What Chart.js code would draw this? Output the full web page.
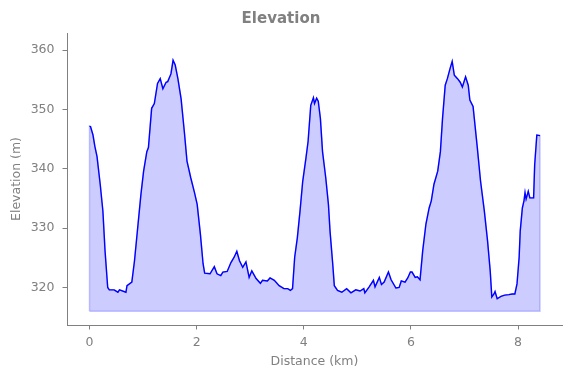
<!DOCTYPE html>
<html>
<head>
<meta charset="utf-8">
<script src="https://cdn.jsdelivr.net/npm/chart.js@4.4.1/dist/chart.umd.min.js"></script>
<style>
  body { margin: 0; background: #fff; }
  #wrap { width: 571px; height: 378px; }
</style>
</head>
<body>
<div id="wrap"><canvas id="chart" width="571" height="378"></canvas></div>
<script>
const GRAY = "#808080";
const BASE = 316;

// distance (km) / elevation (m)
const distKm = [
  0.00, 0.02, 0.065, 0.10, 0.14, 0.20, 0.25, 0.29, 0.34, 0.37, 0.46, 0.53, 0.56, 0.68, 0.70, 0.79,
  0.84, 0.90, 0.96, 1.01, 1.07, 1.10, 1.16, 1.21, 1.27, 1.32, 1.37, 1.43, 1.46, 1.52, 1.56, 1.60,
  1.65, 1.71, 1.77, 1.82, 1.89, 1.96, 2.01, 2.07, 2.12, 2.15, 2.25, 2.33, 2.38, 2.45, 2.49, 2.57,
  2.64, 2.70, 2.75, 2.80, 2.86, 2.92, 2.98, 3.03, 3.11, 3.19, 3.23, 3.32, 3.37, 3.45, 3.54, 3.63,
  3.70, 3.75, 3.79, 3.83, 3.88, 3.93, 3.98, 4.04, 4.08, 4.13, 4.18, 4.20, 4.24, 4.27, 4.31, 4.35,
  4.41, 4.46, 4.49, 4.54, 4.57, 4.63, 4.71, 4.80, 4.88, 4.97, 5.05, 5.12, 5.14, 5.22, 5.30, 5.33,
  5.41, 5.45, 5.50, 5.58, 5.63, 5.72, 5.78, 5.82, 5.89, 5.94, 5.99, 6.02, 6.08, 6.12, 6.17, 6.22,
  6.28, 6.34, 6.38, 6.43, 6.50, 6.55, 6.59, 6.64, 6.68, 6.73, 6.77, 6.81, 6.87, 6.92, 6.96, 7.02,
  7.07, 7.10, 7.16, 7.24, 7.30, 7.37, 7.43, 7.48, 7.51, 7.55, 7.57, 7.61, 7.68, 7.75, 7.83, 7.89,
  7.94, 7.98, 8.02, 8.04, 8.08, 8.11, 8.13, 8.15, 8.19, 8.22, 8.29, 8.31, 8.35, 8.41
];
const elevM = [
  347.2, 347.1, 345.7, 343.8, 342.1, 337.4, 332.9, 326.2, 320.0, 319.6, 319.6, 319.2, 319.6, 319.2, 320.3, 320.9,
  324.5, 330.1, 335.7, 339.6, 342.9, 343.6, 350.2, 351.0, 354.4, 355.2, 353.5, 354.6, 354.7, 356.0, 358.3, 357.5,
  355.2, 351.8, 346.3, 341.3, 338.5, 336.0, 334.0, 329.0, 324.0, 322.4, 322.3, 323.5, 322.3, 322.0, 322.6, 322.7,
  324.2, 325.1, 326.1, 324.5, 323.4, 324.3, 321.7, 322.8, 321.5, 320.7, 321.2, 321.1, 321.6, 321.2, 320.3, 319.8,
  319.8, 319.5, 319.8, 325.1, 328.4, 332.9, 337.9, 341.8, 344.6, 350.7, 352.0, 351.0, 351.9, 351.4, 348.5, 342.9,
  338.5, 334.0, 329.5, 324.0, 320.3, 319.5, 319.2, 319.8, 319.1, 319.6, 319.4, 319.8, 319.1, 320.1, 321.2, 320.1,
  321.7, 320.5, 320.9, 322.6, 321.3, 319.9, 320.0, 321.1, 320.9, 321.6, 322.6, 322.6, 321.7, 321.8, 321.3, 326.2,
  330.7, 333.4, 334.6, 337.4, 339.6, 342.9, 348.5, 354.1, 355.2, 356.9, 358.1, 355.8, 355.2, 354.6, 353.8, 355.5,
  354.1, 351.6, 350.5, 343.5, 337.9, 332.9, 327.9, 322.8, 318.4, 318.9, 319.3, 318.1, 318.5, 318.7, 318.8, 318.9,
  318.9, 320.6, 325.1, 329.5, 333.4, 334.6, 336.0, 334.9, 336.2, 335.1, 335.1, 340.7, 345.7, 345.6
];

const profile = distKm.map((d, i) => ({ x: d, y: elevM[i] }));
const last = distKm[distKm.length - 1];
const area = [{ x: 0, y: BASE }, ...profile, { x: last, y: BASE }, { x: 0, y: BASE }];

const tickFont = { family: "DejaVu Sans", size: 12.5 };
const labelFont = { family: "DejaVu Sans", size: 12.5 };

new Chart(document.getElementById("chart"), {
  type: "scatter",
  data: {
    datasets: [
      {
        data: profile, showLine: true, borderColor: "#0000ff", borderWidth: 1.4,
        pointRadius: 0, fill: false, tension: 0,
      },
      {
        data: area, showLine: true, borderColor: "rgba(0,0,255,0.2)", borderWidth: 1.5,
        backgroundColor: "rgba(0,0,255,0.2)", pointRadius: 0, fill: "shape", tension: 0,
      },
    ],
  },
  options: {
    responsive: false,
    animation: false,
    layout: { padding: { left: 0, right: 9, top: 0, bottom: 0 } },
    plugins: {
      legend: { display: false },
      tooltip: { enabled: false },
      title: {
        display: true, text: "Elevation", color: GRAY,
        font: { family: "DejaVu Sans", size: 15, weight: "bold" },
        padding: { top: 10, bottom: 5 },
      },
    },
    scales: {
      x: {
        type: "linear", min: -0.42, max: 8.82,
        afterFit: s => { s.height = 53; },
        border: { display: true, color: GRAY, width: 1 },
        grid: { drawOnChartArea: false, drawTicks: true, tickLength: 4.5, color: GRAY },
        ticks: { stepSize: 2, includeBounds: false, color: GRAY, font: tickFont, padding: 6, maxRotation: 0 },
        title: { display: true, text: "Distance (km)", color: GRAY, font: labelFont, padding: { top: 0, bottom: 8.5 } },
      },
      y: {
        type: "linear", min: 313.67, max: 362.9,
        afterFit: s => { s.width = 67; },
        border: { display: true, color: GRAY, width: 1 },
        grid: { drawOnChartArea: false, drawTicks: true, tickLength: 4.5, color: GRAY },
        ticks: { stepSize: 10, includeBounds: false, color: GRAY, font: tickFont, padding: 8 },
        title: { display: true, text: "Elevation (m)", color: GRAY, font: labelFont, padding: { top: 9, bottom: 0 } },
      },
    },
  },
});
</script>
</body>
</html>
